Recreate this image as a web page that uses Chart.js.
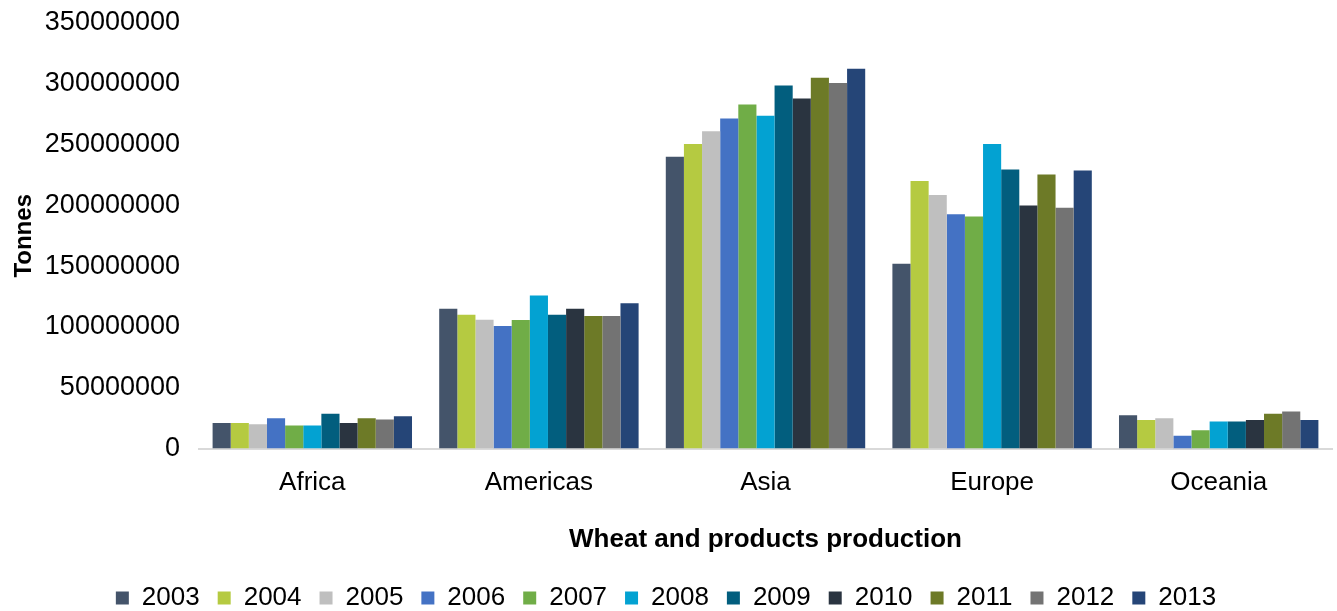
<!DOCTYPE html>
<html>
<head>
<meta charset="utf-8">
<title>Wheat and products production</title>
<script src="https://cdn.jsdelivr.net/npm/chart.js@4/dist/chart.umd.min.js"></script>
<style>
    html, body { margin: 0; padding: 0; background: #fff; }
    #wrap { width: 1337px; height: 611px; position: relative; }
</style>
</head>
<body>
<div id="wrap"><canvas id="wheatChart"></canvas></div>
<script>
// Regions on the x axis
const regions = ['Africa', 'Americas', 'Asia', 'Europe', 'Oceania'];
const years = ['2003', '2004', '2005', '2006', '2007', '2008', '2009', '2010', '2011', '2012', '2013'];

// Production in tonnes, one array per year (Africa, Americas, Asia, Europe, Oceania)
const prod2003 = [21000000, 115000000, 240000000, 152000000, 27500000];
const prod2004 = [21000000, 110000000, 250500000, 220000000, 23500000];
const prod2005 = [20000000, 106000000, 261000000, 208500000, 25000000];
const prod2006 = [25000000, 100800000, 271500000, 192700000, 10600000];
const prod2007 = [19000000, 105700000, 283000000, 190800000, 15000000];
const prod2008 = [19000000, 126000000, 273700000, 250500000, 22300000];
const prod2009 = [28600000, 110000000, 298700000, 229500000, 22300000];
const prod2010 = [21000000, 115000000, 288000000, 200000000, 23500000];
const prod2011 = [25000000, 109000000, 305000000, 225400000, 28600000];
const prod2012 = [24000000, 109000000, 300700000, 198000000, 30500000];
const prod2013 = [26700000, 119600000, 312400000, 228700000, 23500000];

const yearColors = ['#44546A', '#B5CA41', '#BFBFBF', '#4472C4', '#70AD47', '#03A2D2',
    '#025E7E', '#2A3440', '#6D7A27', '#737373', '#254577'];

const seriesData = [prod2003, prod2004, prod2005, prod2006, prod2007, prod2008,
    prod2009, prod2010, prod2011, prod2012, prod2013];

const font = '"Liberation Sans", Arial, sans-serif';
Chart.defaults.font.family = font;
Chart.defaults.color = '#000';

const ctx = document.getElementById('wheatChart').getContext('2d');

new Chart(ctx, {
    type: 'bar',
    data: {
        labels: regions,
        datasets: years.map((yr, i) => ({
            label: yr,
            data: seriesData[i],
            backgroundColor: yearColors[i],
            borderWidth: 0,
            categoryPercentage: 0.88,
            barPercentage: 1.0
        }))
    },
    options: {
        responsive: true,
        maintainAspectRatio: false,
        animation: false,
        layout: {
            padding: { left: 0, right: 5, top: 23, bottom: -10 }
        },
        plugins: {
            legend: {
                position: 'bottom',
                labels: {
                    boxWidth: 13,
                    boxHeight: 13,
                    padding: 18,
                    font: { size: 26 },
                    color: '#000'
                }
            },
            tooltip: { enabled: false }
        },
        scales: {
            x: {
                grid: { display: false },
                border: { display: true, color: '#D9D9D9', width: 2 },
                ticks: { font: { size: 26 }, padding: 11 },
                title: {
                    display: true,
                    text: 'Wheat and products production',
                    font: { size: 26, weight: 'bold' },
                    padding: { top: 14, bottom: 12 }
                }
            },
            y: {
                min: 0,
                max: 350000000,
                grid: { display: false },
                border: { display: false },
                ticks: {
                    stepSize: 50000000,
                    font: { size: 27 },
                    padding: 11,
                    callback: v => String(v)
                },
                title: {
                    display: true,
                    text: 'Tonnes',
                    font: { size: 24, weight: 'bold' },
                    padding: { top: 10, bottom: 0 }
                },
                afterFit: scale => {
                    scale.width = 199;
                    // let the top label hang into the layout padding
                    scale.paddingTop = 0;
                    scale.paddingBottom = 0;
                }
            }
        }
    }
});
</script>
</body>
</html>
